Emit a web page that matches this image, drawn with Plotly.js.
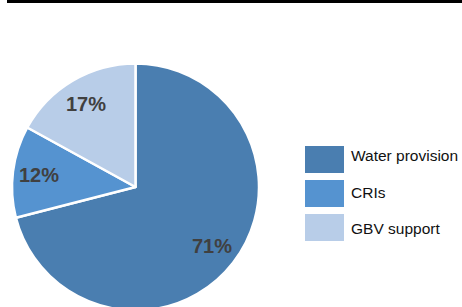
<!DOCTYPE html>
<html>
<head>
<meta charset="utf-8">
<script src="https://cdn.plot.ly/plotly-3.0.1.min.js"></script>
<style>
html,body{margin:0;padding:0;overflow:hidden;background:#fff;width:462px;height:307px;}
#chart{width:462px;height:312px;}
</style>
</head>
<body>
<div id="chart"></div>
<script>
var categories = ["Water provision", "CRIs", "GBV support"];
var values = [71, 12, 17];
var colors = ["#4a7eb0", "#5593d0", "#b8cde8"];

var W = 462, H = 312;
function px(x){ return x / W; }
function py(y){ return 1 - y / H; }

var pieLeft = 12, pieRight = 259, pieTop = 63.5, pieBottom = 310.5;

var trace = {
  type: "pie",
  labels: categories,
  values: values,
  sort: false,
  direction: "clockwise",
  rotation: 0,
  marker: {colors: colors, line: {color: "#ffffff", width: 2.5}},
  textinfo: "none",
  hoverinfo: "none",
  showlegend: false,
  domain: {x: [px(pieLeft), px(pieRight)], y: [py(pieBottom), py(pieTop)]}
};

var shapes = [{
  type: "line", xref: "paper", yref: "paper",
  x0: px(7), x1: 1, y0: py(1.5), y1: py(1.5),
  line: {color: "#000000", width: 3}
}];
var annotations = [];

// percentage labels placed along each slice's mid-angle
var cx = (pieLeft + pieRight) / 2, cy = (pieTop + pieBottom) / 2;
var R = (pieRight - pieLeft) / 2, rLab = R * 0.785;
var total = values.reduce(function(a, b){ return a + b; }, 0);
var cum = 0;
for (var k = 0; k < values.length; k++) {
  var mid = (cum + values[k] / 2) / total * 2 * Math.PI;
  cum += values[k];
  annotations.push({
    xref: "paper", yref: "paper",
    x: px(cx + rLab * Math.sin(mid)), y: py(cy - rLab * Math.cos(mid)),
    xanchor: "center", yanchor: "middle", showarrow: false,
    text: Math.round(values[k] / total * 100) + "%",
    font: {family: "Liberation Sans, Arial, sans-serif", size: 20, color: "#404040", weight: "bold"}
  });
}

var rowTop = [146, 180, 214];
var textY = [155.5, 192, 228.5];
for (var i = 0; i < categories.length; i++) {
  shapes.push({
    type: "rect", xref: "paper", yref: "paper",
    x0: px(305), x1: px(344), y0: py(rowTop[i] + 27), y1: py(rowTop[i]),
    fillcolor: colors[i], line: {width: 0}
  });
  annotations.push({
    xref: "paper", yref: "paper", x: px(349), y: py(textY[i]),
    xanchor: "left", yanchor: "middle", showarrow: false,
    text: categories[i],
    font: {family: "Liberation Sans, Arial, sans-serif", size: 15.5, color: "#111111"}
  });
}

var layout = {
  width: W, height: H,
  margin: {l: 0, r: 0, t: 0, b: 0},
  paper_bgcolor: "#ffffff",
  plot_bgcolor: "#ffffff",
  showlegend: false,
  shapes: shapes,
  annotations: annotations
};

Plotly.newPlot("chart", [trace], layout, {displayModeBar: false, staticPlot: true});
</script>
</body>
</html>
